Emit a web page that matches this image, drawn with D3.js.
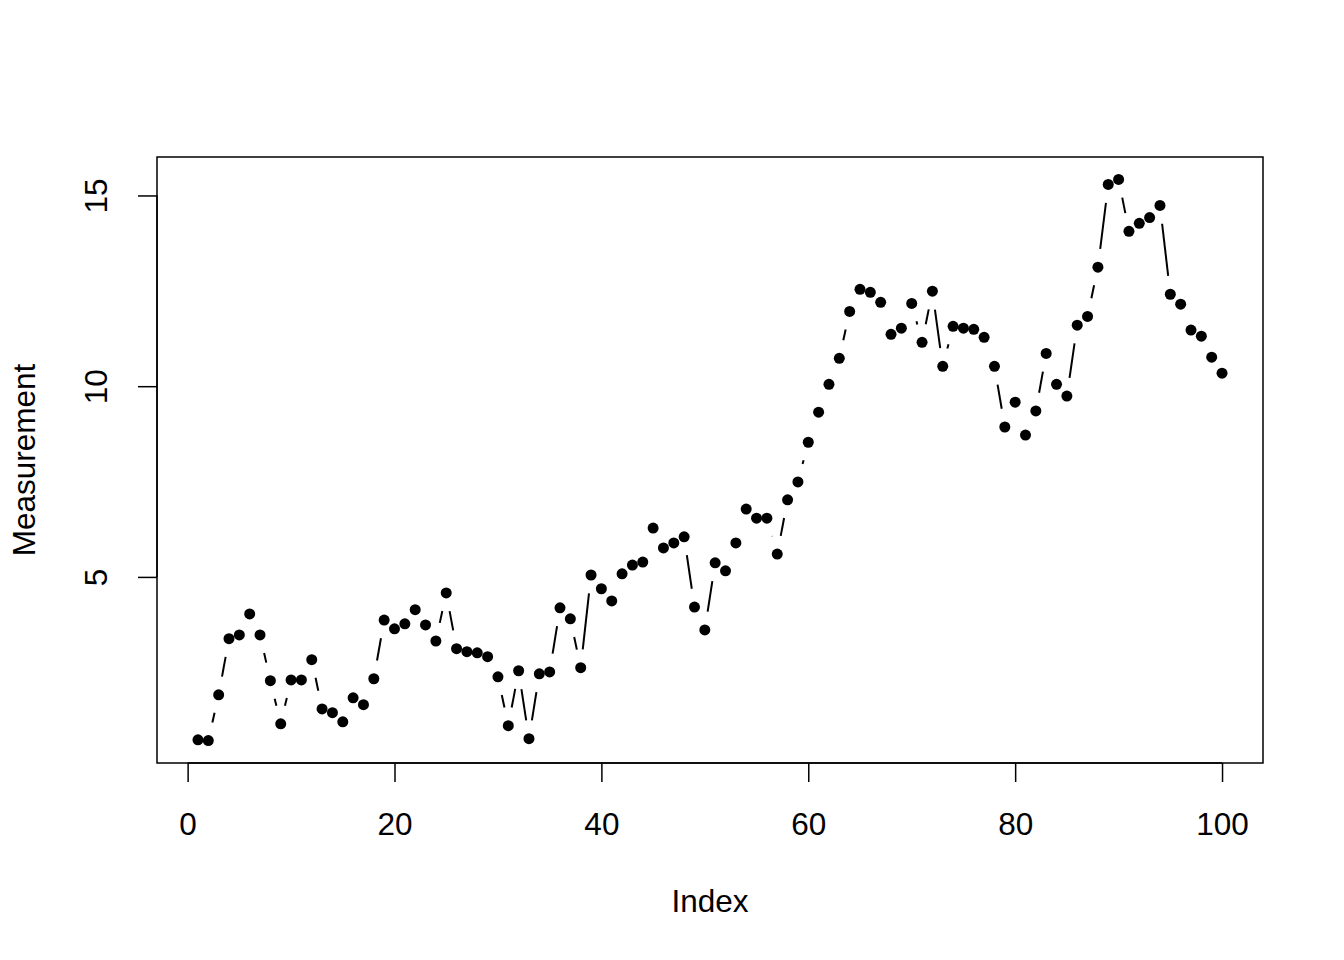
<!DOCTYPE html>
<html>
<head>
<meta charset="utf-8">
<script src="https://cdn.jsdelivr.net/npm/d3@7"></script>
<style>
  body { margin: 0; background: white; }
  text { font-family: "Liberation Sans", Arial, sans-serif; fill: black; }
</style>
</head>
<body>
<script>
var index = d3.range(1, 101);
var measurement = [
  0.73, 0.71, 1.91, 3.38, 3.48, 4.03, 3.48, 2.28, 1.15, 2.30,
  2.30, 2.83, 1.54, 1.44, 1.20, 1.83, 1.65, 2.33, 3.87, 3.64,
  3.77, 4.14, 3.74, 3.32, 4.58, 3.12, 3.04, 3.01, 2.91, 2.38,
  1.10, 2.54, 0.76, 2.46, 2.51, 4.19, 3.90, 2.62, 5.05, 4.69,
  4.37, 5.08, 5.31, 5.39, 6.28, 5.76, 5.89, 6.05, 4.21, 3.61,
  5.37, 5.16, 5.89, 6.78, 6.54, 6.54, 5.60, 7.02, 7.49, 8.53,
  9.32, 10.05, 10.73, 11.96, 12.54, 12.46, 12.20, 11.36, 11.52, 12.17,
  11.15, 12.49, 10.52, 11.57, 11.52, 11.49, 11.28, 10.52, 8.93, 9.58,
  8.72, 9.35, 10.86, 10.05, 9.74, 11.60, 11.83, 13.12, 15.29, 15.42,
  14.06, 14.27, 14.42, 14.74, 12.41, 12.15, 11.47, 11.31, 10.76, 10.34
];
var xTicks = [0, 20, 40, 60, 80, 100];
var yTicks = [5, 10, 15];

drawPlot();

function drawPlot(){
  var W = 1344, H = 960;
  var mL = 157, mR = 1263, mT = 157, mB = 763;
  var fs = 31.5, gap = 18.5;

  // R style 4% range extension
  function rlim(ext){ var r = ext[1] - ext[0]; return [ext[0] - 0.04*r, ext[1] + 0.04*r]; }

  var x = d3.scaleLinear().domain(rlim(d3.extent(index))).range([mL, mR]);
  var y = d3.scaleLinear().domain(rlim(d3.extent(measurement))).range([mB, mT]);

  var svg = d3.select('body').append('svg').attr('width', W).attr('height', H);
  svg.append('rect').attr('width', W).attr('height', H).attr('fill', 'white');

  var pts = index.map(function(d, i){ return [x(d), y(measurement[i])]; });

  // type = "b": segments with a gap around each point
  var seg_g = svg.append('g');
  for(var i = 0; i < pts.length - 1; i++){
    var p = pts[i], q = pts[i+1];
    var dx = q[0] - p[0], dy = q[1] - p[1], len = Math.sqrt(dx*dx + dy*dy);
    if(len <= 2*gap) continue;
    var ux = dx/len, uy = dy/len;
    seg_g.append('line')
      .attr('x1', p[0] + gap*ux).attr('y1', p[1] + gap*uy)
      .attr('x2', q[0] - gap*ux).attr('y2', q[1] - gap*uy)
      .attr('stroke', 'black').attr('stroke-width', 2);
  }

  svg.append('g').selectAll('circle').data(pts).enter().append('circle')
    .attr('cx', function(d){ return d[0]; })
    .attr('cy', function(d){ return d[1]; })
    .attr('r', 5.5).attr('fill', 'black');

  // x axis
  var xa = svg.append('g').attr('transform', 'translate(0,' + mB + ')')
    .call(d3.axisBottom(x).tickValues(xTicks).tickSize(19).tickSizeOuter(0));
  xa.select('.domain').attr('d', 'M' + x(0) + ',0H' + x(100)).attr('stroke-width', 1.5);
  xa.selectAll('.tick line').attr('stroke-width', 1.5);
  xa.selectAll('text').remove();
  xa.selectAll('.tick').append('text')
    .attr('y', 61).attr('dy', '0.35em').attr('text-anchor', 'middle')
    .style('font-size', fs + 'px').text(function(d){ return d; });

  // y axis
  var ya = svg.append('g').attr('transform', 'translate(' + mL + ',0)')
    .call(d3.axisLeft(y).tickValues(yTicks).tickSize(19).tickSizeOuter(0));
  ya.select('.domain').attr('d', 'M0,' + y(5) + 'V' + y(15)).attr('stroke-width', 1.5);
  ya.selectAll('.tick line').attr('stroke-width', 1.5);
  ya.selectAll('text').remove();
  ya.selectAll('.tick').append('text')
    .attr('transform', 'translate(-61,0) rotate(-90)')
    .attr('text-anchor', 'middle').attr('dy', '0.35em')
    .style('font-size', fs + 'px').text(function(d){ return d; });

  // box
  svg.append('rect').attr('x', mL).attr('y', mT)
    .attr('width', mR - mL).attr('height', mB - mT)
    .attr('fill', 'none').attr('stroke', 'black').attr('stroke-width', 1.5);

  // axis titles
  svg.append('text').attr('x', (mL + mR)/2).attr('y', 901).attr('dy', '0.35em')
    .attr('text-anchor', 'middle').style('font-size', fs + 'px').text('Index');
  svg.append('text').attr('transform', 'translate(24,' + ((mT + mB)/2) + ') rotate(-90)')
    .attr('dy', '0.35em').attr('text-anchor', 'middle').style('font-size', fs + 'px').text('Measurement');
}
</script>
</body>
</html>
